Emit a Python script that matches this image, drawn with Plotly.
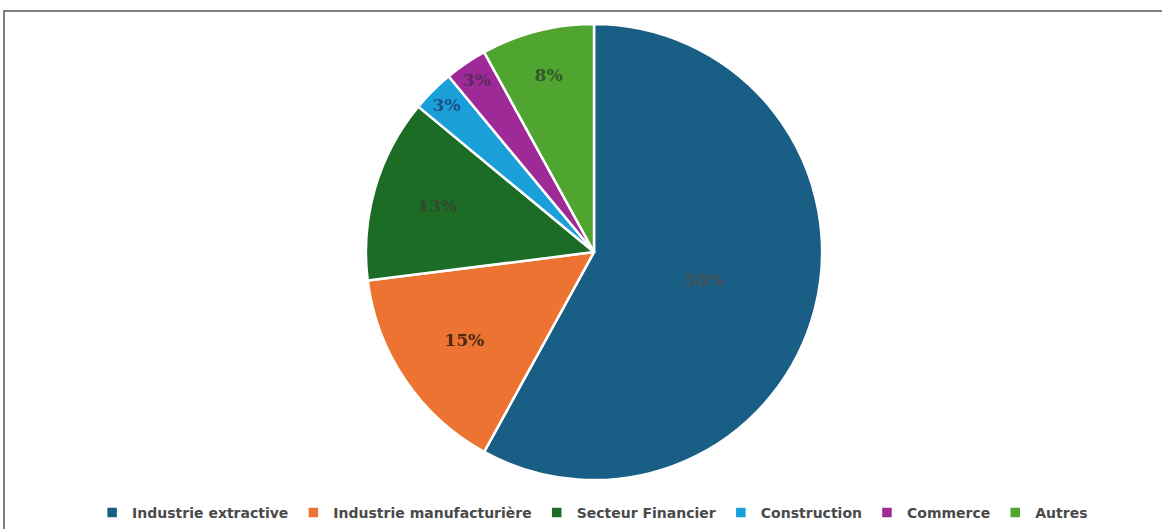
import plotly.graph_objects as go

categories = ["Industrie extractive", "Industrie manufacturière", "Secteur Financier",
              "Construction", "Commerce", "Autres"]
values = [58, 15, 13, 3, 3, 8]
colors = ["#195e84", "#ec7331", "#1c6c25", "#1b9fd9", "#9e2a98", "#4fa52f"]
text_colors = ["#44505a", "#4a2a14", "#34492f", "#1f4f8a", "#5a2a60", "#2f5a2a"]

W, H = 1162, 529
cx, r = 594, 240

fig = go.Figure(go.Pie(
    labels=categories,
    values=values,
    sort=False,
    direction="clockwise",
    rotation=0,
    marker=dict(colors=colors, line=dict(color="white", width=2.5)),
    texttemplate="<b>%{percent:.0%}</b>",
    textposition="inside",
    insidetextorientation="horizontal",
    textfont=dict(family="DejaVu Serif", size=17, color=text_colors),
    domain=dict(x=[(cx - r) / W, (cx + r) / W], y=[48 / H, 505 / H]),
    hoverinfo="label+percent",
))

fig.update_layout(
    width=W, height=H,
    margin=dict(l=0, r=0, t=0, b=0),
    paper_bgcolor="white",
    plot_bgcolor="white",
    uniformtext=dict(minsize=17, mode="show"),
    legend=dict(
        orientation="h",
        x=0.51, xanchor="center",
        y=(H - 514) / H, yanchor="middle",
        font=dict(family="DejaVu Sans", size=14, color="#4a4a4a", weight="bold"),
        itemwidth=30,
        traceorder="normal",
    ),
    shapes=[dict(type="rect", xref="paper", yref="paper",
                 x0=4 / W, x1=1.01, y0=-0.01, y1=(H - 11) / H,
                 line=dict(color="#555555", width=1.5))],
)

fig.write_html("out.html", config={"displayModeBar": False},
               post_script="document.body.style.margin='0';")
